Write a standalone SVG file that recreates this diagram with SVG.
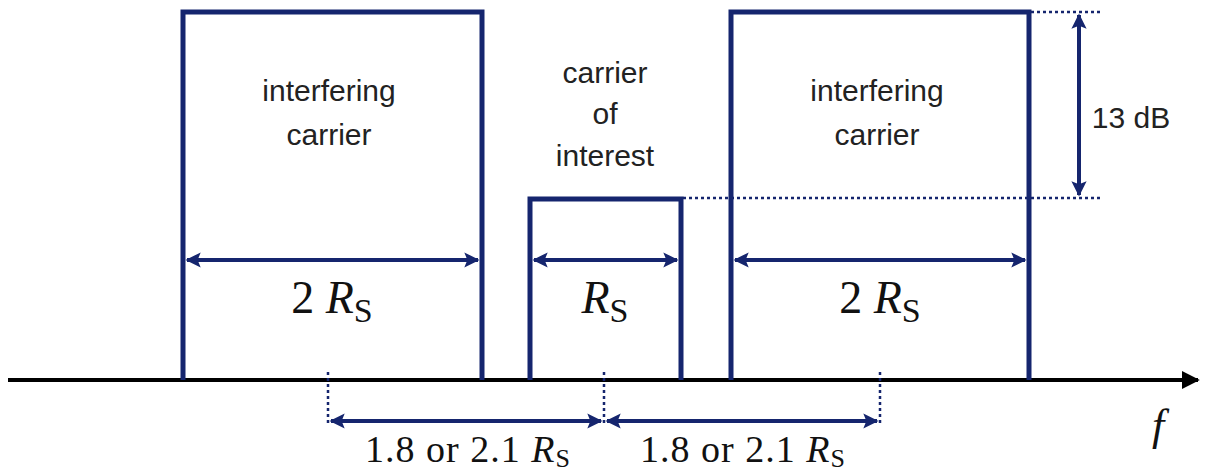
<svg xmlns="http://www.w3.org/2000/svg" width="1205" height="476" viewBox="0 0 1205 476">
<style>
.box{fill:none;stroke:#15256e;stroke-width:5;stroke-linejoin:miter}
.dim{stroke:#15256e;stroke-width:4;fill:none}
.dot{stroke:#15256e;stroke-width:2.5;stroke-dasharray:3 3;fill:none}
.lbl{font-family:"Liberation Sans",Arial,sans-serif;font-size:30px;fill:#222;text-anchor:middle}
.math{font-family:"Liberation Serif","DejaVu Serif",serif;fill:#111;text-anchor:middle}
.it{font-style:italic}
</style>
<defs>
<marker id="ah" viewBox="0 0 10 10" refX="9" refY="5" markerWidth="3.8" markerHeight="3.8" orient="auto-start-reverse" markerUnits="strokeWidth">
<path d="M0,0 L10,5 L0,10 L2,5 z" fill="#15256e"/>
</marker>
<marker id="axh" viewBox="0 0 10 10" refX="9" refY="5" markerWidth="4.5" markerHeight="4.5" orient="auto" markerUnits="strokeWidth">
<path d="M0,0 L10,5 L0,10 z" fill="#000"/>
</marker>
</defs>
<rect width="1205" height="476" fill="#fff"/>
<g id="connectors">
<line x1="8" y1="380" x2="1198" y2="380" stroke="#000" stroke-width="4" marker-end="url(#axh)"/>
<line class="dim" x1="187" y1="260" x2="478" y2="260" marker-start="url(#ah)" marker-end="url(#ah)"/>
<line class="dim" x1="534" y1="260" x2="677" y2="260" marker-start="url(#ah)" marker-end="url(#ah)"/>
<line class="dim" x1="735" y1="260" x2="1025" y2="260" marker-start="url(#ah)" marker-end="url(#ah)"/>
<line class="dot" x1="1031" y1="12" x2="1100" y2="12"/>
<line class="dot" x1="683" y1="198" x2="1100" y2="198"/>
<line class="dim" x1="1079" y1="15" x2="1079" y2="195" marker-start="url(#ah)" marker-end="url(#ah)"/>
<line class="dot" x1="328" y1="372" x2="328" y2="425"/>
<line class="dot" x1="604" y1="372" x2="604" y2="425"/>
<line class="dot" x1="880" y1="372" x2="880" y2="425"/>
<line class="dim" x1="331" y1="421" x2="601" y2="421" marker-start="url(#ah)" marker-end="url(#ah)"/>
<line class="dim" x1="607" y1="421" x2="877" y2="421" marker-start="url(#ah)" marker-end="url(#ah)"/>
</g>
<g id="left-carrier">
<path class="box" d="M183,380 V12 H482 V380"/>
<text class="lbl" x="329" y="101">interfering</text>
<text class="lbl" x="329" y="145">carrier</text>
<text class="math" x="332" y="313" font-size="46">2 <tspan class="it">R</tspan><tspan font-size="34" dy="9">S</tspan></text>
</g>
<g id="carrier-of-interest">
<path class="box" d="M530,380 V199 H681 V380"/>
<text class="lbl" x="605" y="83">carrier</text>
<text class="lbl" x="605" y="124">of</text>
<text class="lbl" x="605" y="166">interest</text>
<text class="math" x="605" y="313" font-size="46"><tspan class="it">R</tspan><tspan font-size="34" dy="9">S</tspan></text>
</g>
<g id="right-carrier">
<path class="box" d="M731,380 V12 H1029 V380"/>
<text class="lbl" x="877" y="101">interfering</text>
<text class="lbl" x="877" y="145">carrier</text>
<text class="math" x="880" y="313" font-size="46">2 <tspan class="it">R</tspan><tspan font-size="34" dy="9">S</tspan></text>
</g>
<g id="labels">
<text class="lbl" x="1131" y="128" font-size="31">13 dB</text>
<text class="math it" x="1158" y="440" font-size="44">f</text>
<text class="math" x="468" y="462" font-size="38" letter-spacing="1">1.8 or 2.1 <tspan class="it">R</tspan><tspan font-size="26" dy="5">S</tspan></text>
<text class="math" x="743" y="462" font-size="38" letter-spacing="1">1.8 or 2.1 <tspan class="it">R</tspan><tspan font-size="26" dy="5">S</tspan></text>
</g>
</svg>
